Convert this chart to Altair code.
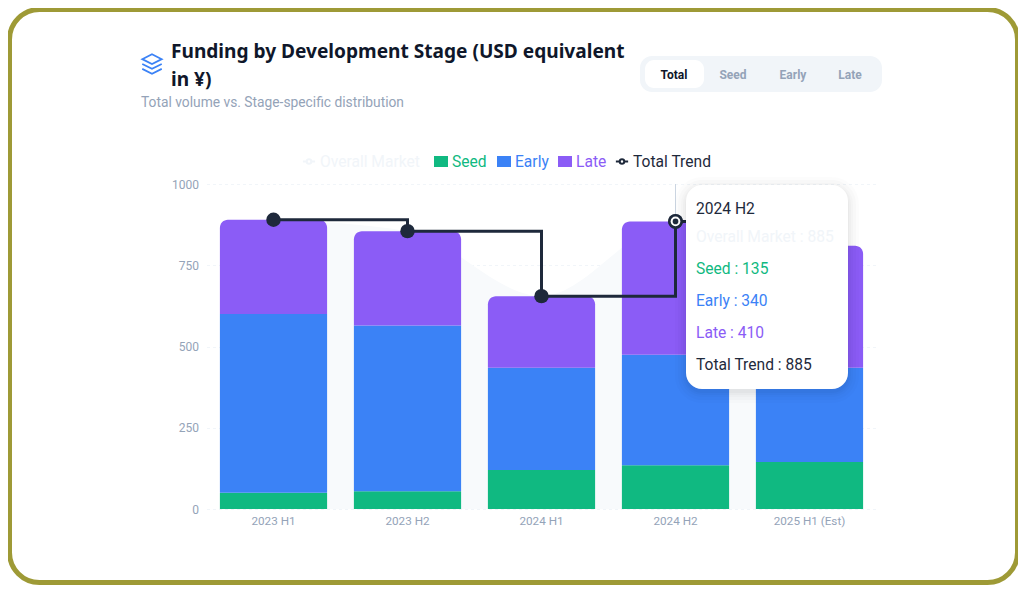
import altair as alt
import pandas as pd

periods = ["2023 H1", "2023 H2", "2024 H1", "2024 H2", "2025 H1 (Est)"]
seed = [50, 55, 120, 135, 145]
early = [550, 510, 315, 340, 290]
late = [290, 290, 220, 410, 375]
total = [890, 855, 655, 885, 810]
overall = [890, 855, 655, 885, 810]
y_ticks = [0, 250, 500, 750, 1000]
tabs = ["Total", "Seed", "Early", "Late"]

FONT = "Roboto"
SEED, EARLY, LATE, DARK = "#10b981", "#3b82f6", "#8b5cf6", "#1e293b"
FAINT = "#f1f5f9"
MUTED = "#94a3b8"
OX, OY = 206.5, 184
PW, PH = 670, 325

df = pd.DataFrame({"period": periods, "seed": seed, "early": early, "late": late,
                   "total": total, "overall": overall})
df["s0"] = 0
df["e0"] = df["seed"]
df["e1"] = df["seed"] + df["early"]
df["l1"] = df["e1"] + df["late"]
one = pd.DataFrame({"k": [0]})

x = alt.X("period:N", sort=periods, title=None,
          scale=alt.Scale(type="band", paddingInner=0.2, paddingOuter=0.1),
          axis=alt.Axis(labelColor=MUTED, labelFontSize=11.7, labelFont=FONT, labelAngle=0,
                        ticks=False, domain=False, grid=False, labelPadding=6))
yscale = alt.Scale(domain=[0, 1000], nice=False)


def y(field):
    return alt.Y(field + ":Q", scale=yscale, title=None,
                 axis=alt.Axis(values=y_ticks, format="d", labelColor=MUTED, labelFontSize=12, labelFont=FONT,
                               ticks=False, domain=False, grid=True, gridColor=FAINT,
                               gridDash=[3, 3], gridWidth=1, labelPadding=8))


def box(x0, y0, x1, y1, **kw):
    return alt.Chart(one).mark_rect(**kw).encode(
        x=alt.value(x0 - OX), x2=alt.value(x1 - OX), y=alt.value(y0 - OY), y2=alt.value(y1 - OY))


def txt(s, px, py, color, size, weight="normal", align="left", font=FONT):
    return alt.Chart(pd.DataFrame({"t": [s]})).mark_text(
        font=font, fontSize=size, fontWeight=weight, color=color, align=align, baseline="middle"
    ).encode(x=alt.value(px - OX), y=alt.value(py - OY), text="t:N")


def sym(px, py, shape, size, **kw):
    return alt.Chart(one).mark_point(shape=shape, size=size, **kw).encode(
        x=alt.value(px - OX), y=alt.value(py - OY))


layers = []
# outer frame and header
layers.append(box(9.5, 9.5, 1017.5, 582.5, fillOpacity=0, fill="white", stroke="#9e9a36", strokeWidth=5, cornerRadius=30))
layers.append(txt("Funding by Development Stage (USD equivalent", 171, 52, "#0f172a", 19.1, "bold", font="Noto Sans"))
layers.append(txt("in ¥)", 171, 80, "#0f172a", 19.1, "bold", font="Noto Sans"))
layers.append(txt("Total volume vs. Stage-specific distribution", 141, 103, MUTED, 13.8))
icon = ("M0,-1 L1,-0.5 L0,0 L-1,-0.5 Z "
        "M-1,0 L0,0.5 L1,0 "
        "M-1,0.5 L0,1 L1,0.5")
layers.append(sym(152, 64, icon, 380, filled=False, stroke=EARLY, strokeWidth=1.7, opacity=1))
# tabs
layers.append(box(640, 56, 882, 92, fill=FAINT, cornerRadius=12))
layers.append(box(645, 60, 704, 88, fill="white", cornerRadius=9))
for t, cx, col in zip(tabs, [674, 733, 793, 850], ["#0f172a", MUTED, MUTED, MUTED]):
    layers.append(txt(t, cx, 75, col, 12, "bold", "center"))

# chart
layers.append(alt.Chart(df).mark_area(interpolate="monotone", color="#f8fafc", opacity=1).encode(
    x=x, y=y("overall")))
layers.append(alt.Chart(df).mark_bar(color=SEED).encode(x=x, y=y("e0"), y2=alt.Y2("s0")))
layers.append(alt.Chart(df).mark_bar(color=EARLY).encode(x=x, y=y("e1"), y2=alt.Y2("e0")))
layers.append(alt.Chart(df).mark_bar(color=LATE, cornerRadiusTopLeft=8, cornerRadiusTopRight=8).encode(
    x=x, y=y("l1"), y2=alt.Y2("e1")))
hi = df[df["period"] == "2024 H2"]
layers.append(alt.Chart(hi).mark_rule(color="#cbd5e1", strokeWidth=1).encode(
    x=x, y=alt.value(0), y2=alt.value(38)))
layers.append(alt.Chart(df).mark_line(interpolate="step-after", color=DARK, strokeWidth=3).encode(
    x=x, y=y("total")))
layers.append(alt.Chart(df).mark_point(filled=True, color=DARK, size=210, opacity=1).encode(
    x=x, y=y("total")))
layers.append(alt.Chart(hi).mark_point(filled=True, color=DARK, size=225, opacity=1).encode(x=x, y=y("total")))
layers.append(alt.Chart(hi).mark_point(filled=True, color="white", size=95, opacity=1).encode(x=x, y=y("total")))
layers.append(alt.Chart(hi).mark_point(filled=True, color=DARK, size=32, opacity=1).encode(x=x, y=y("total")))

# legend
LY = 161.5
TS = 15.6
layers.append(sym(309, LY, "stroke", 150, filled=False, stroke=FAINT, strokeWidth=2, opacity=1))
layers.append(sym(309, LY, "circle", 20, filled=True, fill="white", stroke=FAINT, strokeWidth=2, opacity=1))
layers.append(txt("Overall Market", 320, LY + 0.5, FAINT, TS))
for px, tx, name, col in [(434, 452, "Seed", SEED), (497, 515, "Early", EARLY), (558, 576, "Late", LATE)]:
    layers.append(box(px, LY - 5.5, px + 14, LY + 5.5, fill=col))
    layers.append(txt(name, tx, LY + 0.5, col, TS))
layers.append(sym(622, LY, "stroke", 150, filled=False, stroke=DARK, strokeWidth=2, opacity=1))
layers.append(sym(622, LY, "circle", 20, filled=True, fill="white", stroke=DARK, strokeWidth=2, opacity=1))
layers.append(txt("Total Trend", 633, LY + 0.5, DARK, TS))

# tooltip
for grow, op in [(11, 0.012), (8, 0.014), (5, 0.016), (3, 0.02), (1, 0.025)]:
    layers.append(box(686 - grow, 185 - grow + 3, 848 + grow, 389 + grow + 3,
                      fill="#000000", opacity=op, cornerRadius=16 + grow))
layers.append(box(686, 185, 848, 389, fill="white", cornerRadius=16))
i = periods.index("2024 H2")
layers.append(txt(periods[i], 696, 209, DARK, TS))
layers.append(txt(f"Overall Market : {overall[i]}", 696, 237, FAINT, TS))
layers.append(txt(f"Seed : {seed[i]}", 696, 269, SEED, TS))
layers.append(txt(f"Early : {early[i]}", 696, 301, EARLY, TS))
layers.append(txt(f"Late : {late[i]}", 696, 333, LATE, TS))
layers.append(txt(f"Total Trend : {total[i]}", 696, 365, DARK, TS))

chart = alt.layer(*layers).properties(
    width=PW, height=PH, background="white",
    autosize=alt.AutoSizeParams(type="none"),
    padding={"left": OX - 8, "top": OY - 8, "right": 1010 - (OX - 8) - PW, "bottom": 581 - (OY - 8) - PH},
).configure_view(stroke=None)

chart.save("out.html", embed_options={"renderer": "svg", "actions": False})
